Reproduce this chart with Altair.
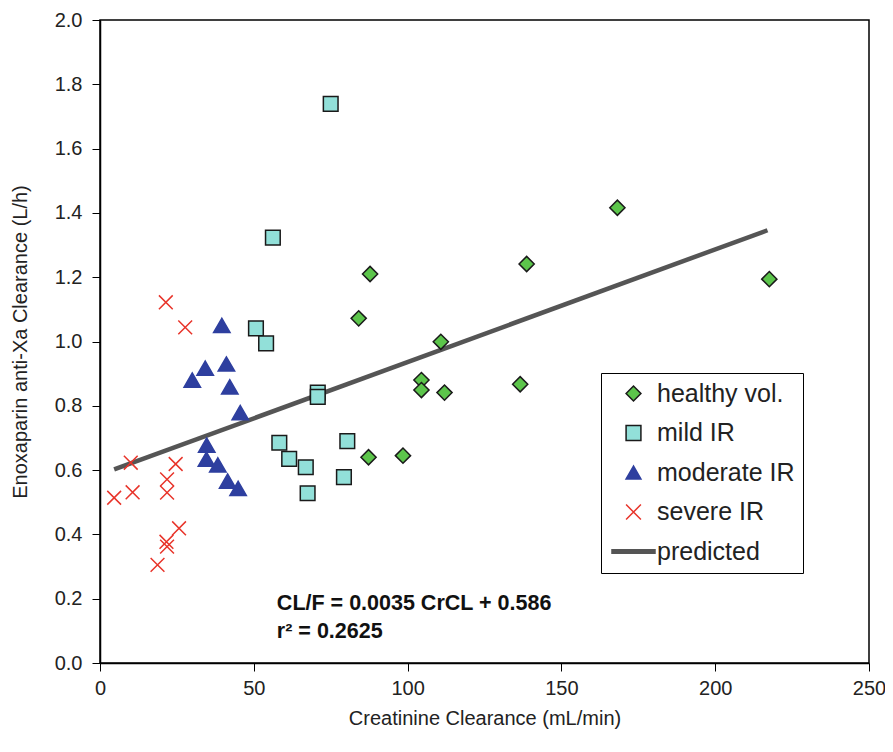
import altair as alt
import pandas as pd

FONT = "Liberation Sans"

groups = ["healthy vol.", "mild IR", "moderate IR", "severe IR", "predicted"]

healthy_x = [168.2, 138.7, 217.6, 87.8, 84.1, 110.8, 104.5, 104.5, 112.0, 136.6, 87.3, 98.5]
healthy_y = [1.416, 1.241, 1.194, 1.210, 1.072, 0.999, 0.880, 0.849, 0.841, 0.867, 0.640, 0.645]

mild_x = [75.0, 56.2, 50.7, 54.0, 70.8, 70.8, 58.3, 61.5, 66.9, 67.5, 80.4, 79.3]
mild_y = [1.739, 1.323, 1.041, 0.994, 0.841, 0.828, 0.685, 0.635, 0.609, 0.528, 0.690, 0.578]

moderate_x = [39.6, 34.2, 30.0, 41.1, 42.2, 45.6, 34.7, 34.6, 38.3, 41.5, 44.9]
moderate_y = [1.050, 0.917, 0.880, 0.930, 0.859, 0.779, 0.678, 0.634, 0.616, 0.566, 0.543]

severe_x = [21.4, 27.7, 10.0, 24.6, 4.6, 10.6, 21.8, 21.8, 25.7, 21.6, 21.8, 18.7]
severe_y = [1.122, 1.044, 0.623, 0.619, 0.514, 0.531, 0.571, 0.530, 0.419, 0.377, 0.362, 0.305]

pred_x = [4.6, 217.0]
pred_y = [0.602, 1.346]

note_text = ["CL/F = 0.0035 CrCL + 0.586", "r\u00b2 = 0.2625"]
note_x = [57.5, 57.5]
note_y = [0.184, 0.097]

x_ticks = [0, 50, 100, 150, 200, 250]
y_ticks = [0.0, 0.2, 0.4, 0.6, 0.8, 1.0, 1.2, 1.4, 1.6, 1.8, 2.0]

rows = []
for g, xs, ys in [(groups[0], healthy_x, healthy_y), (groups[1], mild_x, mild_y),
                  (groups[2], moderate_x, moderate_y), (groups[3], severe_x, severe_y)]:
    rows += [{"group": g, "crcl": a, "cl": b} for a, b in zip(xs, ys)]
df = pd.DataFrame(rows)
pred_df = pd.DataFrame({"crcl": pred_x, "cl": pred_y, "group": "predicted"})
note_df = pd.DataFrame({"crcl": note_x, "cl": note_y, "txt": note_text})

shape_range = ["diamond", "square", "triangle-up", "M-1,-1L1,1M-1,1L1,-1",
               "M-2.9,-0.25L2.9,-0.25L2.9,0.25L-2.9,0.25Z"]
fill_range = ["#5cc54b", "#92e0d9", "#2e3f9f", "transparent", "#555555"]
stroke_range = ["#1a1a1a", "#1a1a1a", "#2e3f9f", "#e8342a", "#555555"]
sizes = {"healthy vol.": 230, "mild IR": 215, "moderate IR": 270, "severe IR": 190}

xs = alt.Scale(domain=[0, 250], nice=False, zero=False)
ys = alt.Scale(domain=[0, 2], nice=False, zero=False)

x_enc = alt.X("crcl:Q", scale=xs, axis=alt.Axis(
    title="Creatinine Clearance (mL/min)", values=x_ticks, grid=False, labelFlush=False,
    tickSize=8, tickColor="black", domainColor="black", domainWidth=1.5,
    labelFont=FONT, labelFontSize=20, labelColor="#222", labelPadding=7,
    titleFont=FONT, titleFontSize=20, titleFontWeight="normal", titleColor="#222",
    titlePadding=10))
y_enc = alt.Y("cl:Q", scale=ys, axis=alt.Axis(
    title="Enoxaparin anti-Xa Clearance (L/h)", values=y_ticks, format=".1f", grid=False,
    labelFlush=False,
    tickSize=8, tickColor="black", domainColor="black", domainWidth=1.5,
    labelFont=FONT, labelFontSize=20, labelColor="#222", labelPadding=10,
    titleFont=FONT, titleFontSize=20, titleFontWeight="normal", titleColor="#222",
    titlePadding=24))

legend = alt.Legend(title=None, orient="none", legendX=501, legendY=353,
                    strokeColor="black", fillColor="white", padding=8,
                    labelFont=FONT, labelFontSize=25, labelColor="#222",
                    symbolSize=220, symbolStrokeWidth=1.5, rowPadding=13.5,
                    labelOffset=11, symbolOffset=12)

shape = alt.Shape("group:N", scale=alt.Scale(domain=groups, range=shape_range), legend=legend)
fill = alt.Fill("group:N", scale=alt.Scale(domain=groups, range=fill_range), legend=legend)
stroke = alt.Stroke("group:N", scale=alt.Scale(domain=groups, range=stroke_range), legend=legend)

line = alt.Chart(pred_df).mark_line(color="#555555", strokeWidth=4.5).encode(
    x=x_enc, y=y_enc, detail="group:N")

layers = [line]
for g in groups[:4]:
    layers.append(
        alt.Chart(df).transform_filter(alt.datum.group == g).mark_point(
            opacity=1, strokeWidth=1.5, size=sizes[g]
        ).encode(x=x_enc, y=y_enc, shape=shape, fill=fill, stroke=stroke)
    )

notes = alt.Chart(note_df).mark_text(
    align="left", baseline="middle", font=FONT, fontSize=21.5, fontWeight="bold", color="#111"
).encode(x=x_enc, y=y_enc, text="txt:N")
layers.append(notes)

chart = alt.layer(*layers).properties(
    width=769, height=643,
    autosize=alt.AutoSizeParams(type="none"),
    padding={"left": 92, "top": 12, "right": 16, "bottom": 80},
).configure_view(stroke="black", strokeWidth=1.5)

chart.save("out.html", embed_options={"renderer": "svg", "actions": False})
